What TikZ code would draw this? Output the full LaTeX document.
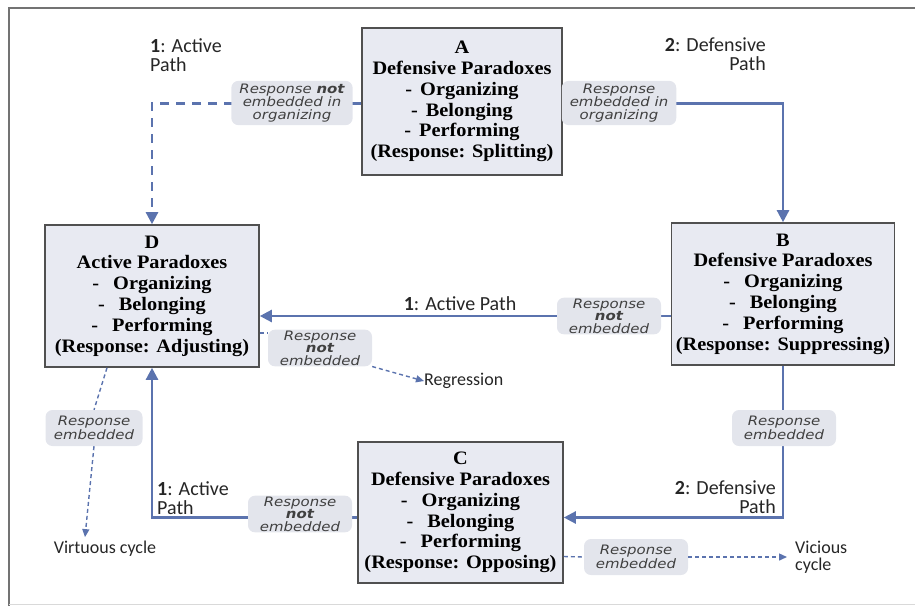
\documentclass[tikz,border=0pt]{standalone}
\usepackage{fontspec}
\setmainfont{Liberation Serif}
\newfontfamily\boxfont[FakeStretch=1.07]{Liberation Serif}
\newfontfamily\bubfont[FakeStretch=1.15]{DejaVu Sans}
\newfontfamily\labfont{Carlito}
\usetikzlibrary{arrows.meta}

\definecolor{pathblue}{HTML}{5B73AE}
\definecolor{boxfill}{HTML}{E8EAF2}
\definecolor{bubfill}{HTML}{E3E5EC}
\definecolor{boxline}{HTML}{505050}

\tikzset{
  box/.style={draw=boxline, line width=1.6pt, fill=boxfill, align=center,
    inner sep=0pt, font=\boxfont\bfseries\fontsize{19}{20.8}\selectfont},
  bubble/.style={fill=bubfill, rounded corners=7pt, align=center,
    inner xsep=8pt, inner ysep=1pt, minimum width=104pt, minimum height=36pt,
    text=black!75, font=\bubfont\itshape\fontsize{13}{12.5}\selectfont},
  plabel/.style={inner sep=0pt, text=black!85,
    font=\labfont\fontsize{20}{19}\selectfont},
  mainline/.style={draw=pathblue, line width=2.4pt},
  bigtip/.style={-{Triangle[length=12pt,width=12pt]}},
  smalltip/.style={-{Triangle[length=8pt,width=7pt]}},
  thindash/.style={draw=pathblue, line width=1.4pt, dash pattern=on 4pt off 3pt},
}

\begin{document}
\begin{tikzpicture}[x=1pt,y=-1pt]
\useasboundingbox (0,0) rectangle (915,606);
% frame
\draw[black!55, line width=1.5pt] (9,606) -- (9,8) -- (915,8);
\draw[black!15, line width=1pt] (9,604) -- (915,604);

% the four boxes
\node[box, minimum width=200pt, minimum height=147pt] (A) at (462,101.5)
  {A\\Defensive Paradoxes\\-\hspace{8pt}Organizing\\-\hspace{8pt}Belonging\\-\hspace{8pt}Performing\\(Response: Splitting)};
\node[box, minimum width=214pt, minimum height=142pt] (D) at (152,296)
  {D\\Active Paradoxes\\-\hspace{14pt}Organizing\\-\hspace{14pt}Belonging\\-\hspace{14pt}Performing\\(Response: Adjusting)};
\node[box, minimum width=223pt, minimum height=142pt] (B) at (783,294)
  {B\\Defensive Paradoxes\\-\hspace{14pt}Organizing\\-\hspace{14pt}Belonging\\-\hspace{14pt}Performing\\(Response: Suppressing)};
\node[box, minimum width=205pt, minimum height=141pt] (C) at (460.5,512.5)
  {C\\Defensive Paradoxes\\-\hspace{14pt}Organizing\\-\hspace{14pt}Belonging\\-\hspace{14pt}Performing\\(Response: Opposing)};

% paths between the boxes
\draw[mainline, bigtip, dash pattern=on 9pt off 7pt] ([yshift=-2pt]A.west) -| (D.north);
\draw[mainline, bigtip] ([yshift=-2pt]A.east) -| (B.north);
\draw[mainline, bigtip] ([yshift=-22pt]B.west) -- ([yshift=-22pt]B.west -| D.east);
\draw[mainline, bigtip] ([yshift=-5pt]C.west) -| (D.south);
\draw[mainline, bigtip] (B.south) |- ([yshift=-5pt]C.east);

% bubbles on the paths
\node[bubble, inner ysep=3pt] (ba) at (292,103) {Response \textbf{not}\\embedded in\\organizing};
\node[bubble, inner ysep=3pt, minimum width=96pt] (bb) at (619,103) {Response\\embedded in\\organizing};
\node[bubble] (bbd) at (609,316) {Response\\\textbf{not}\\embedded};
\node[bubble] (bcd) at (300,514) {Response\\\textbf{not}\\embedded};
\node[bubble] (bbc) at (784,428) {Response\\embedded};

% path labels
\node[plabel, align=left, anchor=north west] (lad) at (150,38) {\textbf{1}: Active\\Path};
\node[plabel, align=right, anchor=north east] (lab) at (766,38) {\textbf{2}: Defensive\\Path};
\node[plabel] (lbd) at (460,304) {\textbf{1}: Active Path};
\node[plabel, align=left, anchor=north west] (lcd) at (157,481) {\textbf{1}: Active\\Path};
\node[plabel, align=right, anchor=north east] (lbc) at (776,481) {\textbf{2}: Defensive\\Path};

% outcomes
\node[bubble] (nd) at (320,348) {Response\\\textbf{not}\\embedded};
\node[plabel, font=\labfont\fontsize{18}{17}\selectfont, anchor=west] (reg) at (424,381) {Regression};
\draw[thindash] ([yshift=-37pt]D.east) -- ([yshift=-37pt]D.east -| nd.west);
\draw[thindash, smalltip] (nd.south east) -- (reg.west);

\node[bubble, minimum width=97pt] (ve) at (94,428) {Response\\embedded};
\node[plabel, font=\labfont\fontsize{18}{17}\selectfont] (vir) at (105,549) {Virtuous cycle};
\draw[thindash] ([xshift=-45pt]D.south) -- (ve.north);
\draw[thindash, smalltip] (ve.south) -- ([xshift=-20pt,yshift=4pt]vir.north);

\node[bubble] (ce) at (636,557) {Response\\embedded};
\node[plabel, font=\labfont\fontsize{18}{17}\selectfont, align=left, anchor=west] (vic) at (795,557) {Vicious\\cycle};
\draw[thindash] ([yshift=-44pt]C.east) -- (ce.west);
\draw[thindash, smalltip] (ce.east) -- ([xshift=-8pt]vic.west);
\end{tikzpicture}
\end{document}
